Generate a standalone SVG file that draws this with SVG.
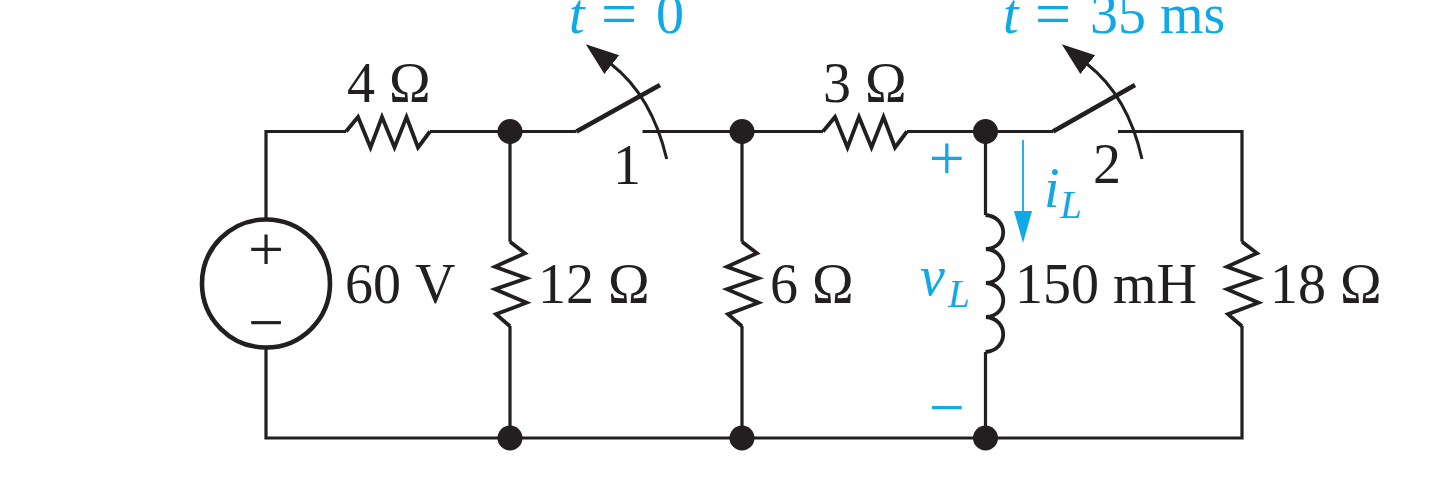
<svg xmlns="http://www.w3.org/2000/svg" width="1440" height="483" viewBox="0 0 1440 483">
<style>
.w{fill:none;stroke:#231f20;stroke-width:3.2;stroke-linejoin:miter}
.z{fill:none;stroke:#231f20;stroke-width:3.8;stroke-linejoin:miter}
.c{fill:none;stroke:#231f20;stroke-width:4.6}
.b{fill:none;stroke:#231f20;stroke-width:4.8}
.a{fill:none;stroke:#231f20;stroke-width:3;marker-end:url(#ah)}
.dot{fill:#231f20}
.t{font-family:"Liberation Serif",serif;font-size:56px;fill:#231f20}
.b1{font-family:"Liberation Serif",serif;fill:#10a8e6;font-size:56px}
.i{font-style:italic}
.s{font-size:39px}
.big{font-size:64px}
.ci{fill:none;stroke:#10a8e6;stroke-width:1.8;marker-end:url(#ch)}
</style>
<defs>
<marker id="ah" markerUnits="userSpaceOnUse" markerWidth="34" markerHeight="26" refX="1" refY="13" orient="auto"><path d="M0 1 L33 13 L0 25Z" fill="#231f20"/></marker>
<marker id="ch" markerUnits="userSpaceOnUse" markerWidth="33" markerHeight="20" refX="1" refY="10" orient="auto"><path d="M0 1 L32 10 L0 19Z" fill="#10a8e6"/></marker>
<path id="rh" d="M0 0L12 -14.5L24.5 16L36 -14.5L48.5 16L60.5 -14.5L72 16L84 0"/>
<path id="rv" d="M0 0L15 11.5L-15 25L16.5 36.5L-15 47.5L16.5 61L-14 72.5L0 84.5"/>
</defs>
<g id="connectors">
<path class="w" d="M266 219V131.5H346M430 131.5H576.5M642.5 131.5H823M907 131.5H1053M1118 131.5H1242V241.7M1242 326V438H266V348"/>
<path class="w" d="M510 131.5V241.7M510 326V438M742 131.5V241.7M742 326V438M985.5 131.5V215M985.5 352V438"/>
</g>
<g id="source-60V">
<circle class="c" cx="266" cy="283.5" r="64"/>
<text class="t big" x="266" y="271" text-anchor="middle">+</text>
<text class="t big" x="266" y="344" text-anchor="middle">−</text>
<text class="t" x="345" y="303">60 <tspan x="415">V</tspan></text>
</g>
<g id="r-4"><use href="#rh" x="346" y="131.5" class="z"/><text class="t" x="347" y="101.5">4 Ω</text></g>
<g id="r-3"><use href="#rh" x="823" y="131.5" class="z"/><text class="t" x="823" y="101.5">3 Ω</text></g>
<g id="r-12"><use href="#rv" x="510" y="241.7" class="z"/><text class="t" x="538" y="303">12 Ω</text></g>
<g id="r-6"><use href="#rv" x="742" y="241.7" class="z"/><text class="t" x="770" y="303">6 Ω</text></g>
<g id="r-18"><use href="#rv" x="1242" y="241.7" class="z"/><text class="t" x="1270" y="303">18 Ω</text></g>
<g id="inductor">
<path class="z" d="M985.5 215C1009 217 1009 248 986 249C1009 251 1009 282 986 283C1009 285 1009 316 986 317C1009 319 1009 350 985.5 352"/>
<text class="t" x="1015" y="303">150 mH</text>
<text class="b1 big" x="946.7" y="180" text-anchor="middle">+</text>
<text class="b1 big" x="946.7" y="429" text-anchor="middle">−</text>
<text class="b1" x="920" y="295"><tspan class="i">v</tspan><tspan class="i s" x="948" y="307">L</tspan></text>
</g>
<g id="current-iL">
<path class="ci" d="M1023 140V212"/>
<text class="b1" x="1044" y="207"><tspan class="i">i</tspan><tspan class="i s" x="1060" y="217.500">L</tspan></text>
</g>
<g id="switch-1">
<path class="b" d="M576.5 131.500L660 85"/>
<path class="a" d="M666.7 159Q652 96 611 64"/>
<text class="t" x="613" y="184">1</text>
<text class="b1" y="32.500"><tspan class="i" x="569">t</tspan><tspan class="big" x="601" y="35">=</tspan><tspan x="656" y="32.500">0</tspan></text>
</g>
<g id="switch-2">
<path class="b" d="M1053 131.500L1135 85"/>
<path class="a" d="M1142 159Q1128 96 1087 64"/>
<text class="t" x="1093" y="183">2</text>
<text class="b1" y="32.500"><tspan class="i" x="1003">t</tspan><tspan class="big" x="1035" y="35">=</tspan><tspan x="1090" y="32.500">35 ms</tspan></text>
</g>
<g id="junctions">
<circle class="dot" cx="510" cy="131.5" r="12.5"/><circle class="dot" cx="742" cy="131.5" r="12.5"/><circle class="dot" cx="985.5" cy="131.5" r="12.5"/>
<circle class="dot" cx="510" cy="438" r="12.5"/><circle class="dot" cx="742" cy="438" r="12.5"/><circle class="dot" cx="985.5" cy="438" r="12.5"/>
</g>
</svg>
